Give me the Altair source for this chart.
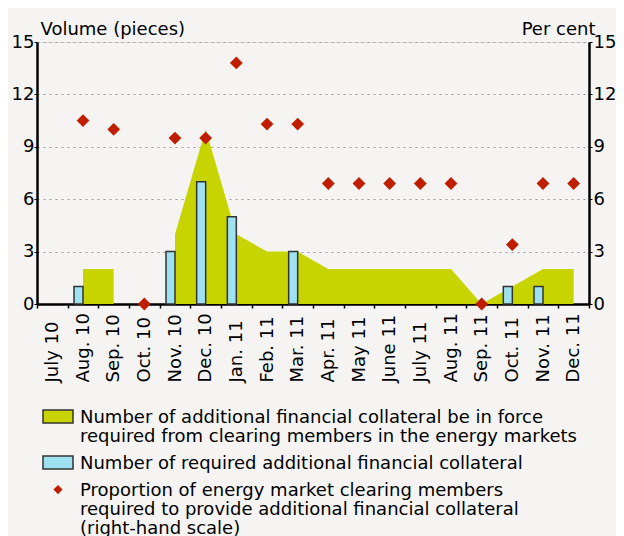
import altair as alt
import pandas as pd

months = ["July 10", "Aug. 10", "Sep. 10", "Oct. 10", "Nov. 10", "Dec. 10",
          "Jan. 11", "Feb. 11", "Mar. 11", "Apr. 11", "May 11", "June 11",
          "July 11", "Aug. 11", "Sep. 11", "Oct. 11", "Nov. 11", "Dec. 11"]
in_force = [None, 2, 2, None, 4, 10, 4, 3, 3, 2, 2, 2, 2, 2, 0, 1, 2, 2]
required = [None, 1, None, None, 3, 7, 5, None, 3, None, None, None, None, None, None, 1, 1, None]
proportion = [None, 10.5, 10.0, 0.0, 9.5, 9.5, 13.8, 10.3, 10.3, 6.9, 6.9, 6.9,
              6.9, 6.9, 0.0, 3.4, 6.9, 6.9]
left_ticks = [0, 3, 6, 9, 12, 15]
right_ticks = [0, 3, 6, 9, 12, 15]

series_keys = ["A", "B", "C"]
series_labels = {
    "A": ["Number of additional financial collateral be in force",
          "required from clearing members in the energy markets"],
    "B": ["Number of required additional financial collateral"],
    "C": ["Proportion of energy market clearing members",
          " required to provide additional financial collateral",
          "(right-hand scale)"],
}

df = pd.DataFrame({"month": months, "in_force": in_force,
                   "required": required, "proportion": proportion})

GREEN = "#C8D400"
CYAN = "#9EE2F2"
RED = "#C01E00"
FONT = "DejaVu Sans"

# legend symbols (shifted down so they sit beside the first label line)
rect_path = "M-3,0.22H3V2.82H-3Z"
diamond_path = "M0,0.82L0.7,1.52L0,2.22L-0.7,1.52Z"

fill_scale = alt.Scale(domain=series_keys, range=[GREEN, CYAN, RED])
stroke_scale = alt.Scale(domain=series_keys, range=["#333333", "#333333", RED])
shape_scale = alt.Scale(domain=series_keys, range=[rect_path, rect_path, diamond_path])

def label_expr():
    parts = []
    for k in series_keys:
        lines = series_labels[k]
        arr = "[" + ",".join("'" + s + "'" for s in lines) + "]"
        parts.append((k, arr))
    expr = parts[-1][1]
    for k, arr in reversed(parts[:-1]):
        expr = f"datum.value == '{k}' ? {arr} : ({expr})"
    return expr

legend = alt.Legend(
    title=None, orient="none", legendX=12, legendY=358, padding=0,
    labelExpr=label_expr(), labelFont=FONT, labelFontSize=18, labelLimit=0,
    labelBaseline="top", labelOffset=13, rowPadding=0, symbolSize=100,
    symbolStrokeWidth=1.5, labelColor="#000000",
)

x_enc = alt.X("month:N", sort=months, title=None,
              scale=alt.Scale(paddingInner=0, paddingOuter=0),
              axis=alt.Axis(labelAngle=-90, labelAlign="left", labelBaseline="middle",
                            labelFont=FONT, labelFontSize=18, labelColor="#000",
                            tickBand="extent", tickSize=4, tickColor="#000", tickWidth=1.5,
                            domainColor="#000", domainWidth=2.5, labelPadding=74))

left_axis = alt.Axis(values=left_ticks, title="Volume (pieces)", titleAngle=0,
                     titleX=3, titleY=-8, titleAlign="left", titleBaseline="alphabetic",
                     titleFont=FONT, titleFontSize=18, titleFontWeight="normal",
                     titleColor="#000",
                     labelFont=FONT, labelFontSize=18, labelColor="#000",
                     domainColor="#000", domainWidth=2.5, tickColor="#000",
                     tickSize=3, labelPadding=0, grid=True, gridDash=[2, 4],
                     gridColor="#999999", gridWidth=1)
right_axis = alt.Axis(values=right_ticks, title="Per cent", orient="right", titleAngle=0,
                      titleX=6, titleY=-8, titleAlign="right", titleBaseline="alphabetic",
                      titleFont=FONT, titleFontSize=18, titleFontWeight="normal",
                      titleColor="#000",
                      labelFont=FONT, labelFontSize=18, labelColor="#000",
                      domainColor="#000", domainWidth=2.5, tickColor="#000",
                      tickSize=3, labelPadding=1, grid=False)

base = alt.Chart(df)
y_left = alt.Scale(domain=[0, 15])
y_right = alt.Scale(domain=[0, 15])

area = base.transform_calculate(series="'A'").mark_area(
    invalid="break-paths-show-domains"
).encode(
    x=x_enc,
    y=alt.Y("in_force:Q", scale=y_left, axis=left_axis),
    fill=alt.Fill("series:N", scale=fill_scale, legend=legend),
)

bars = base.transform_calculate(series="'B'").transform_filter(
    "isValid(datum.required)"
).mark_bar(width=9, xOffset=-4.5, strokeWidth=1.5).encode(
    x=x_enc,
    y=alt.Y("required:Q", scale=y_left, axis=left_axis),
    fill=alt.Fill("series:N", scale=fill_scale, legend=legend),
    stroke=alt.Stroke("series:N", scale=stroke_scale, legend=legend),
)

points = base.transform_calculate(series="'C'").transform_filter(
    "isValid(datum.proportion)"
).mark_point(shape="diamond", filled=True, size=100, opacity=1).encode(
    x=x_enc,
    y=alt.Y("proportion:Q", scale=y_right, axis=right_axis),
    fill=alt.Fill("series:N", scale=fill_scale, legend=legend),
    stroke=alt.Stroke("series:N", scale=stroke_scale, legend=legend),
)

# carries the legend symbol shapes only (no rows drawn)
legend_shapes = base.transform_calculate(series="'C'").transform_filter(
    "false"
).mark_point(filled=True, size=100, opacity=1).encode(
    x=x_enc,
    y=alt.Y("proportion:Q", scale=y_right, axis=right_axis),
    fill=alt.Fill("series:N", scale=fill_scale, legend=legend),
    shape=alt.Shape("series:N", scale=shape_scale, legend=legend),
    stroke=alt.Stroke("series:N", scale=stroke_scale, legend=legend),
)

left_layer = alt.layer(area, bars)
right_layer = alt.layer(points, legend_shapes)
chart = alt.layer(left_layer, right_layer).resolve_scale(y="independent").properties(
    width=552, height=262,
    autosize=alt.AutoSizeParams(type="none"),
    padding={"left": 29, "top": 34, "right": 27, "bottom": 232},
    background="#F5F4F2",
).configure_view(stroke=None).configure(
    style={"guide-label": {"lineHeight": 19}}
)

chart.save("out.html", embed_options={"renderer": "svg", "actions": False})
